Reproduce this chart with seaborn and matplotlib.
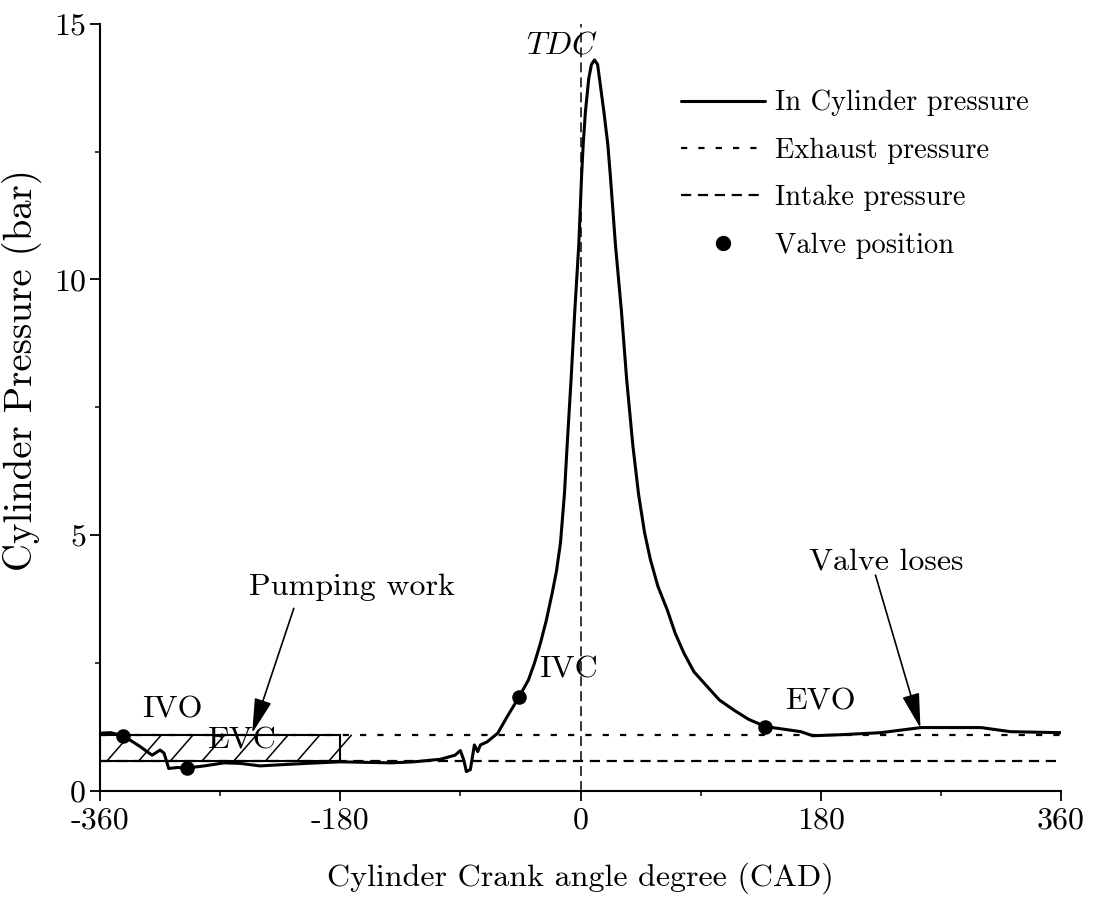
import numpy as np
import pandas as pd
import matplotlib
matplotlib.use("Agg")
import matplotlib.pyplot as plt
import seaborn as sns
from matplotlib.patches import Rectangle
from matplotlib.collections import LineCollection
from matplotlib.ticker import FixedLocator
from matplotlib.lines import Line2D

# In-cylinder pressure trace over one engine cycle
crank_angle = [-360, -352, -343, -336, -330, -321, -315, -312, -308.5, -302,
               -295, -282, -267, -255, -240, -227, -205, -180, -142, -125,
               -105, -94, -90, -87.5, -85.5, -82.5, -79.5, -77, -75, -70,
               -62, -55, -46, -39, -34.5, -30, -25.5, -21.2, -18, -15,
               -12, -10, -7.0, -4.3, -1.3, 0.75, 2.0, 3.7, 6.2, 8.2,
               10.5, 12.8, 14.2, 17.5, 20.5, 22.5, 26.2, 30.7, 34.5, 39.2,
               43.5, 48, 52.4, 58, 65, 71, 77.4, 85, 95, 104,
               115, 126, 138.5, 165, 174, 195, 225, 255, 275, 300,
               322, 340, 360]
cyl_pressure = [1.13, 1.14, 1.08, 0.97, 0.87, 0.70, 0.80, 0.74, 0.44, 0.46,
                0.45, 0.49, 0.55, 0.54, 0.49, 0.51, 0.54, 0.57, 0.55, 0.57,
                0.62, 0.70, 0.79, 0.61, 0.38, 0.42, 0.90, 0.77, 0.90, 0.96,
                1.13, 1.45, 1.84, 2.17, 2.50, 2.89, 3.35, 3.87, 4.30, 4.85,
                5.82, 6.76, 8.07, 9.37, 10.67, 11.98, 12.63, 13.28, 13.93, 14.20,
                14.29, 14.20, 13.93, 13.28, 12.63, 11.98, 10.67, 9.37, 8.07, 6.76,
                5.80, 5.05, 4.52, 4.00, 3.54, 3.08, 2.70, 2.33, 2.04, 1.78,
                1.58, 1.40, 1.26, 1.16, 1.08, 1.10, 1.14, 1.24, 1.24, 1.24,
                1.16, 1.15, 1.14]

exhaust_pressure = 1.10
intake_pressure = 0.58

valve_events = ["IVO", "EVC", "IVC", "EVO"]
valve_angle = [-343, -295, -46, 138.5]
valve_pressure = [1.08, 0.45, 1.84, 1.26]
valve_label_pos = [(-306, 1.58), (-254, 0.98), (-9, 2.37), (180, 1.74)]

x_ticks = [-360, -180, 0, 180, 360]
x_tick_labels = ["-360", "-180", "0", "180", "360"]
x_minor = [-270, -90, 90, 270]
y_ticks = [0, 5, 10, 15]
y_tick_labels = ["0", "5", "10", "15"]
y_minor = [2.5, 7.5, 12.5]

trace = pd.DataFrame({"cad": crank_angle, "p": cyl_pressure})
valves = pd.DataFrame({"cad": valve_angle, "p": valve_pressure, "event": valve_events})

sns.set_theme(style="ticks")
plt.rcParams.update({
    "font.family": ["cmr10", "DejaVu Serif"],
    "mathtext.fontset": "cm",
    "axes.unicode_minus": False,
    "axes.formatter.use_mathtext": True,
    "axes.linewidth": 1.5,
    "axes.edgecolor": "black",
    "xtick.color": "black",
    "ytick.color": "black",
    "text.color": "black",
    "axes.labelcolor": "black",
})

FS = 23
fig = plt.figure(figsize=(10.93, 9.01), dpi=100)
ax = fig.add_axes([100 / 1093, 1 - 791 / 901, 961 / 1093, (791 - 23.6) / 901])

ax.set_xlim(-360, 360)
ax.set_ylim(0, 15)

# reference pressures
ax.axhline(exhaust_pressure, color="black", lw=1.6, dashes=(2.8, 5.0))
ax.axhline(intake_pressure, color="black", lw=1.6, dashes=(4.6, 3.0))
ax.axvline(0, color="black", lw=1.1, dashes=(6.5, 3.3))

# pumping-work box between intake and exhaust pressure
rect = Rectangle((-360, intake_pressure), 180, exhaust_pressure - intake_pressure,
                 facecolor="none", edgecolor="black", lw=1.5, zorder=2)
ax.add_patch(rect)

# diagonal hatching inside the box
tr = ax.transData
x0p, y0p = tr.transform((-360, intake_pressure))
x1p, y1p = tr.transform((-180, exhaust_pressure))
run = (y1p - y0p) / 1.15
segs = []
for c in np.arange(x0p + 6.7 - 31.7, x1p + 1, 31.7):
    p0 = tr.inverted().transform((c, y0p))
    p1 = tr.inverted().transform((c + run, y1p))
    segs.append([p0, p1])
hatch = LineCollection(segs, colors="black", linewidths=1.1, zorder=2)
hatch.set_clip_path(rect)
ax.add_collection(hatch)

sns.lineplot(data=trace, x="cad", y="p", ax=ax, color="black", lw=2.2,
             sort=False, estimator=None, zorder=3)
sns.scatterplot(data=valves, x="cad", y="p", ax=ax, color="black", s=110,
                edgecolor="black", linewidth=0, zorder=4)

for name, (tx, ty) in zip(valve_events, valve_label_pos):
    ax.text(tx, ty, name, ha="center", va="center", fontsize=FS)

ax.text(-14, 14.56, r"$TDC$", ha="center", va="center", fontsize=FS)

ax.text(-171, 3.99, "Pumping work", ha="center", va="center", fontsize=FS)
ax.annotate("", xy=(-246, 1.13), xytext=(-214.8, 3.57),
            arrowprops=dict(arrowstyle="-|>,head_length=1.2,head_width=0.3",
                            mutation_scale=18, color="black", lw=1.2,
                            shrinkA=0, shrinkB=0))
ax.text(229, 4.48, "Valve loses", ha="center", va="center", fontsize=FS)
ax.annotate("", xy=(254.7, 1.23), xytext=(221, 4.22),
            arrowprops=dict(arrowstyle="-|>,head_length=1.2,head_width=0.3",
                            mutation_scale=18, color="black", lw=1.2,
                            shrinkA=0, shrinkB=0))

ax.set_xticks(x_ticks, x_tick_labels, fontsize=23)
ax.set_yticks(y_ticks, y_tick_labels, fontsize=23)
ax.xaxis.set_minor_locator(FixedLocator(x_minor))
ax.yaxis.set_minor_locator(FixedLocator(y_minor))
ax.tick_params(which="major", direction="out", length=7, width=1.3, pad=3)
ax.tick_params(axis="x", which="major", pad=4.5)
ax.tick_params(which="minor", direction="out", length=3.5, width=1.1)
sns.despine(ax=ax)

ax.set_xlabel("Cylinder Crank angle degree (CAD)", fontsize=FS, labelpad=20)
ax.set_ylabel("Cylinder Pressure (bar)", fontsize=28)
ax.yaxis.set_label_coords(-0.06, 0.5486)

handles = [
    Line2D([], [], color="black", lw=2.2),
    Line2D([], [], color="black", lw=1.6, dashes=(2.8, 5.0)),
    Line2D([], [], color="black", lw=1.6, dashes=(4.6, 3.0)),
    Line2D([], [], color="black", lw=0, marker="o", markersize=10),
]
labels = ["In Cylinder pressure", "Exhaust pressure", "Intake pressure", "Valve position"]
ax.legend(handles, labels, loc="upper left", bbox_to_anchor=(0.6046, 0.9135),
          frameon=False, fontsize=20.5, handlelength=2.95, handletextpad=0.35,
          labelspacing=0.74, borderpad=0, borderaxespad=0)

fig.savefig("out.png", dpi=100)
